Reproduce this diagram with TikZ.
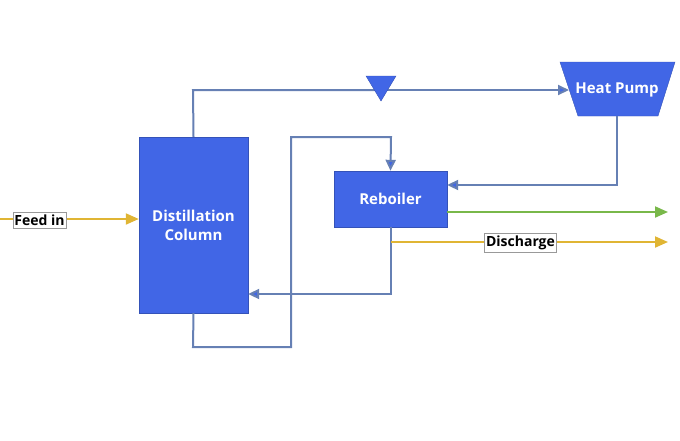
\documentclass[tikz,border=0pt]{standalone}
\usepackage{fontspec}
\setmainfont{Open Sans}
\usetikzlibrary{arrows.meta,calc}
\definecolor{boxblue}{HTML}{4166E6}
\definecolor{pipe}{HTML}{6680B4}
\definecolor{feedyel}{HTML}{E0B534}
\definecolor{outgreen}{HTML}{79B84A}
\tikzset{
  unit/.style={draw=boxblue!80!black, fill=boxblue, text=white, font=\bfseries\fontsize{15}{19}\selectfont, align=center, inner sep=0pt},
  pipeline/.style={draw=pipe, line width=2pt, -{Triangle[length=11pt,width=10pt,fill=boxblue]}},
  plainpipe/.style={draw=pipe, line width=2pt},
  tag/.style={draw=black!40, fill=white, font=\bfseries\fontsize{14}{16}\selectfont, inner xsep=1.5pt, inner ysep=2.5pt},
}
\begin{document}
\begin{tikzpicture}[x=1pt,y=-1pt]
\useasboundingbox (0,0) rectangle (680,440);
% units
\node[unit, minimum width=109pt, minimum height=176pt] (col) at (193.5,225) {Distillation\\Column};
\node[unit, minimum width=113pt, minimum height=56pt] (reb) at (390.5,199) {Reboiler};
\path[fill=boxblue, draw=boxblue!80!black] (560,62) -- (675,62) -- (658,116) -- (578,116) -- cycle;
\node[text=white, font=\bfseries\fontsize{15}{19}\selectfont] (hp) at (617,90) {Heat Pump};
\coordinate (hpbot) at (617,116);
\coordinate (hpleft) at (569,90);
% valve
\coordinate (valve) at (381,90);
% top line
\draw[plainpipe] (col.north) -- (193,90) coordinate (c1) -- (valve);
\draw[pipeline] (valve) -- (hpleft);
\path[fill=boxblue, draw=boxblue!80!black] (366,76) -- (396,76) -- (381,101) -- cycle;
% heat pump to reboiler
\draw[pipeline] (hpbot) |- ($(reb.east)+(0,-14)$);
% loop from column bottom to reboiler top
\draw[pipeline] (col.south) -- (193,347) -- (291,347) -- (291,137) -- (391,137) -- (reb.north);
% reboiler bottom to column
\draw[pipeline] (reb.south) |- ($(col.east)+(0,69)$);
% products
\coordinate (gend) at (668,212);
\draw[draw=outgreen, line width=2pt, -{Triangle[length=13pt,width=11pt]}] ($(reb.east)+(0,13)$) -- (gend);
\coordinate (dend) at (668,242);
\coordinate (dstart) at (391,242);
\draw[draw=feedyel, line width=2pt, -{Triangle[length=13pt,width=11pt]}] (dstart) -- (dend);
\node[tag] (dis) at (520.5,243) {Discharge};
% feed
\coordinate (fstart) at (0,219);
\draw[draw=feedyel, line width=2pt, -{Triangle[length=13pt,width=11pt]}] (fstart) -- (col.west |- fstart);
\node[tag] (feed) at (39.5,220) {Feed in};
\end{tikzpicture}
\end{document}
